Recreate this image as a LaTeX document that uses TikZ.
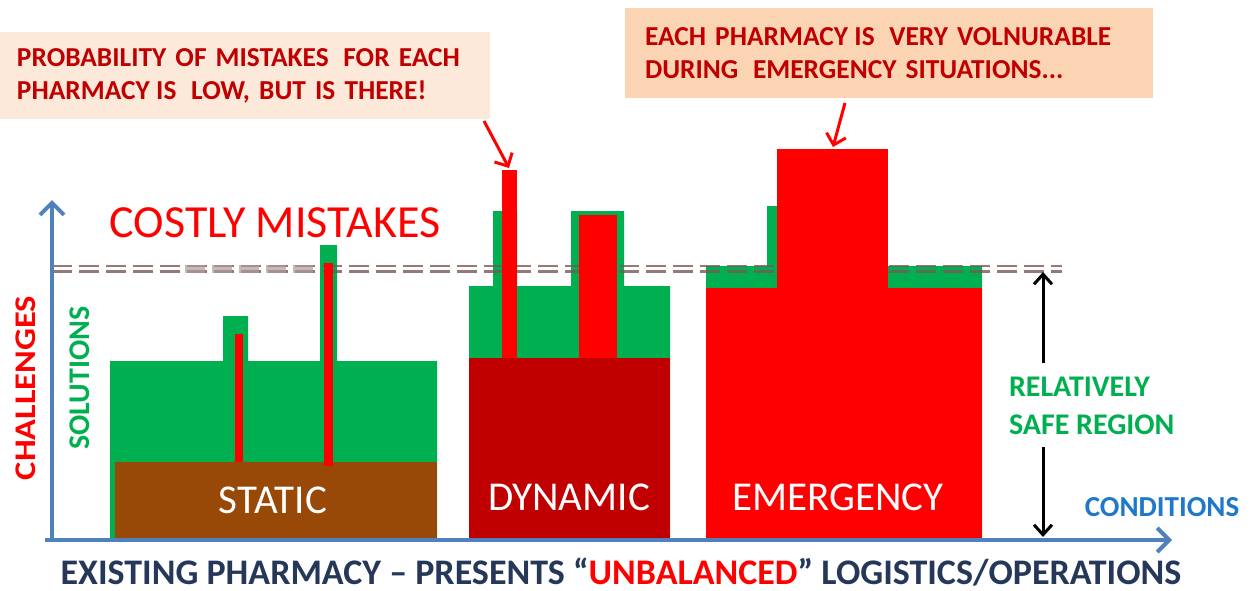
\documentclass[tikz,border=0pt]{standalone}
\usepackage{fontspec}
\setmainfont{Carlito}
\usepackage{xcolor}
\usetikzlibrary{positioning,shapes,arrows.meta}

\definecolor{solgreen}{HTML}{00B050}
\definecolor{staticbrown}{HTML}{984807}
\definecolor{dynred}{HTML}{C00000}
\definecolor{hotred}{HTML}{FF0000}
\definecolor{notered}{HTML}{C00000}
\definecolor{peachlight}{HTML}{FDE9DA}
\definecolor{peachdark}{HTML}{FBD4B4}
\definecolor{axisblue}{HTML}{4F81BD}
\definecolor{condblue}{HTML}{1F78C8}
\definecolor{navytext}{HTML}{263859}
\definecolor{limitgrey}{HTML}{7A5858}

\begin{document}
\begin{tikzpicture}[x=0.5pt,y=-0.5pt,
          every node/.style = {inner sep=0pt, outer sep=0pt},
          note/.style = {rectangle, align=left, text=notered,
            font=\bfseries\fontsize{13.7}{16.5}\selectfont},
          barlabel/.style = {text=white, font=\fontsize{20.5}{24}\selectfont},
          axislabel/.style = {font=\bfseries\fontsize{15}{18}\selectfont},
          axis/.style = {draw=axisblue, line width=2pt,
            -{Straight Barb[length=6pt,width=12pt,line width=2pt]}},
          callarrow/.style = {draw=hotred, line width=1.5pt,
            -{Straight Barb[length=5pt,width=10pt,line width=1.5pt]}},
          safearrow/.style = {draw=black, line width=1.5pt,
            -{Straight Barb[length=5pt,width=9pt,line width=1.5pt]}},
          limit/.style = {draw=limitgrey, line width=1.2pt, opacity=0.8,
            dash pattern=on 10pt off 3.5pt}]
  \useasboundingbox (0,0) rectangle (1254,590);

  % solutions (green)
  \fill[solgreen] (110,540) -- (110,361) -- (223,361) -- (223,316) -- (248,316)
    -- (248,361) -- (320,361) -- (320,245) -- (337,245) -- (337,361)
    -- (437,361) -- (437,540) -- cycle;
  \fill[solgreen] (469,540) -- (469,286) -- (493,286) -- (493,211) -- (517,211)
    -- (517,286) -- (571,286) -- (571,211) -- (624,211) -- (624,286)
    -- (670,286) -- (670,540) -- cycle;
  \fill[solgreen] (706,540) -- (706,266) -- (767,266) -- (767,206) -- (777,206)
    -- (777,266) -- (982,266) -- (982,540) -- cycle;

  % limit of the safe region
  \draw[limit] (52,266) -- (1062,266);
  \draw[limit] (52,271.5) -- (1062,271.5);
  \draw[limit, draw=limitgrey!60, line width=4pt, opacity=0.7]
    (185,268.75) -- (313,268.75);

  % challenges
  \fill[staticbrown] (115,462) rectangle (437,540);
  \fill[hotred] (235,334) rectangle (243,462);
  \fill[hotred] (324,263) rectangle (333,466);
  \fill[dynred] (469,358) rectangle (670,540);
  \fill[hotred] (502,170) rectangle (517,358);
  \fill[hotred] (579,215) rectangle (617,358);
  \fill[hotred] (706,288) rectangle (982,540);
  \fill[hotred] (777,149) rectangle (888,288);

  \node[barlabel] (static) at (273,500) {STATIC};
  \node[barlabel] (dynamic) at (569,497) {DYNAMIC};
  \node[barlabel] (emergency) at (838,497) {EMERGENCY};

  \node[text=hotred, font=\fontsize{23}{26}\selectfont] (costly) at (275,223)
    {COSTLY MISTAKES};

  % axes
  \coordinate (origin) at (52,540);
  \coordinate (ytip) at (52,200);
  \coordinate (xtip) at (1172,540);
  \draw[axis] ([xshift=-3.5pt]origin) -- (xtip);
  \draw[axis] ([yshift=-1pt]origin) -- (ytip);

  \node[axislabel, text=hotred, rotate=90, xscale=1.15] (challenges) at (26,388)
    {CHALLENGES};
  \node[axislabel, text=solgreen, rotate=90] (solutions) at (80,378) {SOLUTIONS};
  \node[axislabel, text=condblue, font=\bfseries\fontsize{14.5}{17}\selectfont]
    (conditions) at (1162,507) {CONDITIONS};

  % safe region
  \node[axislabel, text=solgreen, align=left, anchor=west,
    font=\bfseries\fontsize{15}{19}\selectfont] (safe) at (1009,406)
    {RELATIVELY\\SAFE REGION};
  \coordinate (limitend) at (1043,272);
  \coordinate (floor) at (1043,537);
  \draw[safearrow] ([yshift=7pt]safe.north -| limitend) -- (limitend);
  \draw[safearrow] ([yshift=-6pt]safe.south -| floor) -- (floor);

  % notes
  \node[note, fill=peachlight, text width=228pt, inner xsep=8.5pt,
    minimum height=43.5pt] (note1) at (245,75.5)
    {PROBABILITY OF MISTAKES\hspace{0.2em} FOR EACH\\PHARMACY\hspace{-0.1em} IS\hspace{0.2em} LOW, BUT IS THERE!};
  \node[note, fill=peachdark, text width=244pt, inner xsep=10pt,
    minimum height=45pt] (note2) at (889,53)
    {EACH PHARMACY\hspace{-0.1em} IS\hspace{0.2em} VERY VOLNURABLE\\DURING\hspace{0.2em} EMERGENCY SITUATIONS...};
  \coordinate (spike) at (509,168);
  \coordinate (peak) at (833,147);
  \draw[callarrow] ([shift={(-6,2)}]note1.south east) -- (spike);
  \draw[callarrow] ([shift={(-44,5)}]note2.south) -- (peak);

  \node[font=\bfseries\fontsize{18}{20}\selectfont, text=navytext, anchor=base]
    (title) at (621,584) {EXISTING PHARMACY -- PRESENTS
    ``\textcolor{hotred}{UNBALANCED}''\ LOGISTICS/OPERATIONS};
\end{tikzpicture}
\end{document}
